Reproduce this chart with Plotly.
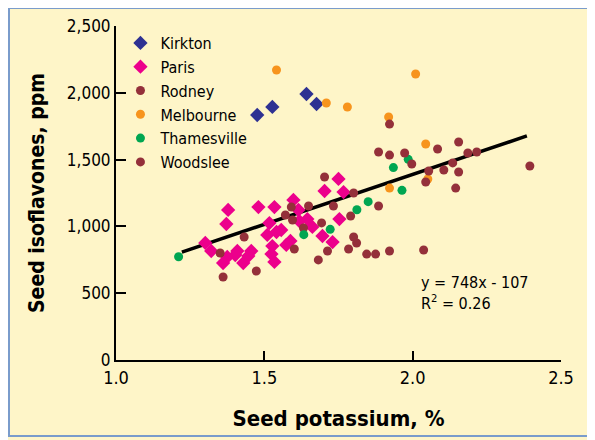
import plotly.graph_objects as go

# Seed potassium (%) and seed isoflavones (ppm), by location
kirkton_k = [1.476, 1.527, 1.642, 1.676]
kirkton_iso = [1834, 1894, 1991, 1916]

paris_k = [1.378, 1.372, 1.301, 1.321, 1.409, 1.402, 1.375, 1.361, 1.456, 1.446,
           1.429, 1.480, 1.534, 1.517, 1.510, 1.541, 1.527, 1.524, 1.534, 1.598,
           1.615, 1.645, 1.618, 1.662, 1.557, 1.588, 1.574, 1.750, 1.703, 1.767,
           1.753, 1.696, 1.730]
paris_iso = [1123, 1018, 876, 816, 816, 786, 771, 726, 816, 778,
             726, 1145, 1145, 1025, 936, 958, 853, 793, 734, 1198,
             1123, 1055, 1040, 996, 973, 891, 861, 1355, 1265, 1257,
             1055, 928, 883]

rodney_k = [1.432, 1.351, 1.473, 1.361, 1.703, 1.591, 1.649, 1.571, 1.595, 1.632,
            1.693, 1.733, 1.601, 1.713, 1.682, 1.784, 1.791, 1.801, 1.885, 1.801]
rodney_iso = [921, 801, 666, 621, 1370, 1145, 1153, 1085, 1048, 988,
              1026, 1153, 831, 816, 749, 831, 1078, 1250, 1153, 921]

melbourne_k = [1.541, 1.709, 1.780, 2.010, 1.919, 2.044, 1.922, 2.051]
melbourne_iso = [2171, 1924, 1894, 2141, 1819, 1617, 1287, 1355]

thamesville_k = [1.211, 1.633, 1.722, 1.812, 1.850, 1.935, 1.985, 1.964]
thamesville_iso = [773, 938, 978, 1125, 1185, 1440, 1502, 1270]

woodslee_k = [1.811, 1.845, 1.875, 1.922, 1.922, 1.885, 1.922, 1.973, 1.997, 2.084,
              2.155, 2.186, 2.216, 2.135, 2.105, 2.054, 2.155, 2.044, 2.145, 2.395,
              2.037]
woodslee_iso = [876, 793, 793, 816, 1766, 1557, 1534, 1549, 1467, 1579,
                1632, 1549, 1557, 1475, 1422, 1415, 1407, 1332, 1287, 1452,
                823]

# regression y = 748x - 107
slope, intercept = 748, -107
fit_k = [1.222, 2.385]
fit_iso = [slope * k + intercept for k in fit_k]

FONT = "DejaVu Sans Condensed, Liberation Sans Narrow, Roboto, sans-serif"
BG = "#FEF5C8"

series = [
    ("Kirkton", kirkton_k, kirkton_iso, "#2E3192", "diamond", 11),
    ("Paris", paris_k, paris_iso, "#EC008C", "diamond", 11),
    ("Rodney", rodney_k, rodney_iso, "#94303A", "circle", 9),
    ("Melbourne", melbourne_k, melbourne_iso, "#F7941D", "circle", 9),
    ("Thamesville", thamesville_k, thamesville_iso, "#00A651", "circle", 9),
    ("Woodslee", woodslee_k, woodslee_iso, "#94303A", "circle", 9),
]

fig = go.Figure()

fig.add_trace(go.Scatter(
    x=fit_k, y=fit_iso, mode='lines', showlegend=False,
    line=dict(color='black', width=3.5), hoverinfo='skip'
))

for name, xs, ys, color, symbol, size in series:
    fig.add_trace(go.Scatter(
        x=xs, y=ys, mode='markers', name=name,
        marker=dict(color=color, symbol=symbol, size=size, line=dict(width=0)),
        cliponaxis=False
    ))

fig.add_annotation(
    x=2.02, y=500, xref='x', yref='y', xanchor='left', yanchor='middle',
    text="y = 748x - 107<br>R<sup>2</sup> = 0.26", showarrow=False, align='left',
    font=dict(family=FONT, size=16, color='black')
)

# page body adds 8px white margin; figure is 587x432, plot area 445x334
L, T, PW, PH = 108, 18, 445, 334

# blue frame around the picture
fig.add_shape(
    type='rect', xref='paper', yref='paper',
    x0=(1 - L) / PW, x1=(583 - L) / PW,
    y0=(T + PH - 428) / PH, y1=(T + PH - 0) / PH,
    line=dict(color='#7A9CCB', width=2), fillcolor='rgba(0,0,0,0)', layer='below'
)

fig.update_layout(
    width=587, height=432,
    margin=dict(l=L, r=587 - L - PW, t=T, b=432 - T - PH),
    paper_bgcolor=BG, plot_bgcolor=BG,
    font=dict(family=FONT, color='black'),
    showlegend=True,
    legend=dict(
        x=0.01, y=1.0, xanchor='left', yanchor='top',
        bgcolor='rgba(0,0,0,0)', font=dict(family=FONT, size=16),
        tracegroupgap=0, itemwidth=30
    ),
    xaxis=dict(
        range=[1.0, 2.5], tickvals=[1.0, 1.5, 2.0, 2.5], ticktext=['1.0', '1.5', '2.0', '2.5'],
        showgrid=False, zeroline=False, showline=True, linecolor='black', linewidth=2,
        ticks='inside', ticklen=9, tickwidth=1.5, tickcolor='black',
        tickfont=dict(family=FONT, size=18), automargin=False,
        title=dict(text='<b>Seed potassium, %</b>', font=dict(family=FONT, size=22), standoff=24)
    ),
    yaxis=dict(
        range=[0, 2500], tickvals=[0, 500, 1000, 1500, 2000, 2500], tickformat=',',
        showgrid=False, zeroline=False, showline=True, linecolor='black', linewidth=2,
        ticks='inside', ticklen=10, tickwidth=1.5, tickcolor='black',
        tickfont=dict(family=FONT, size=17), automargin=False,
        title=dict(text='<b>Seed isoflavones, ppm</b>', font=dict(family=FONT, size=21), standoff=16)
    ),
)

fig.write_html("out.html")
